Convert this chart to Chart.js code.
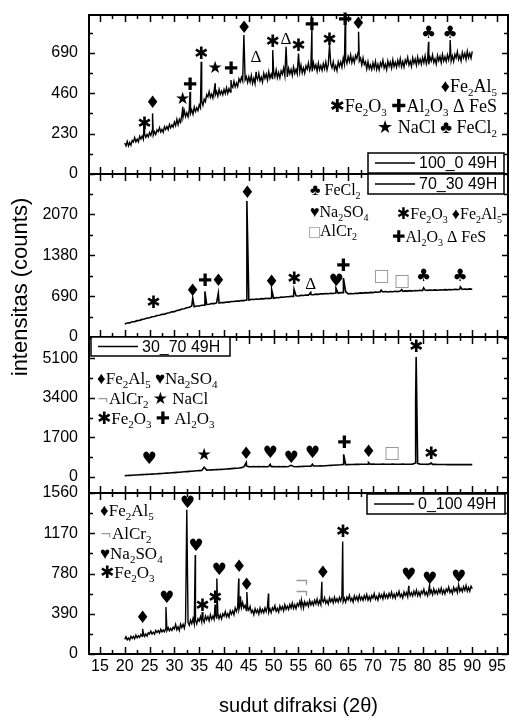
<!DOCTYPE html>
<html><head><meta charset="utf-8">
<script src="https://cdn.jsdelivr.net/npm/chart.js@4.4.1/dist/chart.umd.min.js"></script>
<style>html,body{margin:0;padding:0;background:#fff;}canvas{display:block;}</style>
</head><body>
<canvas id="c" width="509" height="718"></canvas>
<script>
// ---- angle grids (2θ, degrees) ----
const twoTheta = [20,20.5,21,21.5,22,22.5,23,23.5,24,24.5,25,25.5,26,26.5,27,27.5,28,28.5,29,29.5,30,30.5,31,31.5,32,32.5,33,33.5,34,34.5,35,35.5,36,36.5,37,37.5,38,38.5,39,39.5,40,40.5,41,41.5,42,42.5,43,43.5,44,44.5,45,45.5,46,46.5,47,47.5,48,48.5,49,49.5,50,50.5,51,51.5,52,52.5,53,53.5,54,54.5,55,55.5,56,56.5,57,57.5,58,58.5,59,59.5,60,60.5,61,61.5,62,62.5,63,63.5,64,64.5,65,65.5,66,66.5,67,67.5,68,68.5,69,69.5,70,70.5,71,71.5,72,72.5,73,73.5,74,74.5,75,75.5,76,76.5,77,77.5,78,78.5,79,79.5,80,80.5,81,81.5,82,82.5,83,83.5,84,84.5,85,85.5,86,86.5,87,87.5,88,88.5,89,89.5,90];
const twoThetaFine = [20,20.25,20.5,20.75,21,21.25,21.5,21.75,22,22.25,22.5,22.75,23,23.25,23.5,23.75,24,24.25,24.5,24.75,25,25.25,25.5,25.75,26,26.25,26.5,26.75,27,27.25,27.5,27.75,28,28.25,28.5,28.75,29,29.25,29.5,29.75,30,30.25,30.5,30.75,31,31.25,31.5,31.75,32,32.25,32.5,32.75,33,33.25,33.5,33.75,34,34.25,34.5,34.75,35,35.25,35.5,35.75,36,36.25,36.5,36.75,37,37.25,37.5,37.75,38,38.25,38.5,38.75,39,39.25,39.5,39.75,40,40.25,40.5,40.75,41,41.25,41.5,41.75,42,42.25,42.5,42.75,43,43.25,43.5,43.75,44,44.25,44.5,44.75,45,45.25,45.5,45.75,46,46.25,46.5,46.75,47,47.25,47.5,47.75,48,48.25,48.5,48.75,49,49.25,49.5,49.75,50,50.25,50.5,50.75,51,51.25,51.5,51.75,52,52.25,52.5,52.75,53,53.25,53.5,53.75,54,54.25,54.5,54.75,55,55.25,55.5,55.75,56,56.25,56.5,56.75,57,57.25,57.5,57.75,58,58.25,58.5,58.75,59,59.25,59.5,59.75,60,60.25,60.5,60.75,61,61.25,61.5,61.75,62,62.25,62.5,62.75,63,63.25,63.5,63.75,64,64.25,64.5,64.75,65,65.25,65.5,65.75,66,66.25,66.5,66.75,67,67.25,67.5,67.75,68,68.25,68.5,68.75,69,69.25,69.5,69.75,70,70.25,70.5,70.75,71,71.25,71.5,71.75,72,72.25,72.5,72.75,73,73.25,73.5,73.75,74,74.25,74.5,74.75,75,75.25,75.5,75.75,76,76.25,76.5,76.75,77,77.25,77.5,77.75,78,78.25,78.5,78.75,79,79.25,79.5,79.75,80,80.25,80.5,80.75,81,81.25,81.5,81.75,82,82.25,82.5,82.75,83,83.25,83.5,83.75,84,84.25,84.5,84.75,85,85.25,85.5,85.75,86,86.25,86.5,86.75,87,87.25,87.5,87.75,88,88.25,88.5,88.75,89,89.25,89.5,89.75,90];

// ---- series: 100_0 49H (fine grid) ----
const counts100_0 = [176,160,186,160,180,164,191,182,207,183,198,183,215,199,216,197,227,208,225,211,236,220,246,221,241,225,251,241,264,239,254,238,269,253,270,252,282,263,280,267,296,276,311,281,311,294,334,325,360,327,348,326,367,344,365,340,381,355,377,360,394,377,416,391,426,411,452,439,470,436,455,433,475,451,470,443,482,453,472,451,481,458,491,459,486,467,504,493,527,496,518,498,542,524,550,529,579,536,554,521,553,523,561,516,545,515,555,537,573,530,552,523,573,544,568,535,582,545,569,543,581,553,592,548,577,547,587,568,603,560,582,552,601,571,595,561,608,572,596,570,608,580,619,575,604,574,615,596,632,590,614,584,633,600,621,585,630,593,617,590,628,599,638,593,622,589,627,605,638,594,616,588,639,612,638,608,659,626,654,629,668,639,678,634,663,634,675,657,693,643,659,621,661,623,638,598,639,600,621,594,632,602,641,595,624,593,633,613,648,603,625,594,643,613,637,603,650,612,636,609,647,617,656,611,640,609,649,629,664,620,642,612,661,630,654,619,666,629,653,625,663,634,673,627,656,624,664,643,678,634,656,626,675,645,669,634,681,643,667,640,678,649,688,643,672,641,681,661,696,652,674,643,692,662,686,652,699,662,686,659,698];
const peaks100_0 = [[23.9,290],[25.6,345],[31.7,383],[33.15,468],[35.4,639],[38.2,516],[41.4,535],[44.0,791],[46.45,582],[49.8,705],[52.5,724],[55.0,686],[57.7,828],[61.25,734],[64.4,876],[67.1,810],[81.2,752],[85.55,762]];

// ---- series: 70_30 49H ----
const counts70_30 = [220,236,238,256,260,276,281,297,303,319,326,342,346,362,366,382,386,402,408,424,428,446,453,472,476,494,501,524,510,522,523,536,538,549,552,564,563,574,572,582,580,589,588,598,598,608,606,616,614,624,625,634,632,641,638,647,644,653,648,656,653,664,662,672,670,680,678,688,686,696,693,702,700,709,706,716,713,723,720,730,727,735,731,739,735,743,738,749,748,764,728,734,730,739,736,744,740,749,745,753,749,758,755,764,760,768,760,768,764,771,766,774,770,778,774,782,777,784,780,788,783,791,786,793,788,795,790,797,792,799,795,802,798,805,800,807,802,809,804,811,806];
const peaks70_30 = [[33.7,655],[36.15,768],[38.85,740],[44.6,2294],[49.6,797],[54.1,808],[57.45,751],[62.55,825],[64.05,994],[71.65,790],[75.8,800],[80.2,830],[87.6,845]];

// ---- series: 30_70 49H ----
const counts30_70 = [57,62,68,74,80,85,92,98,103,109,115,122,129,136,143,150,157,164,172,179,186,195,203,212,220,229,238,246,255,263,272,280,300,292,298,304,309,314,319,324,329,338,348,357,367,376,386,400,430,470,444,440,448,438,446,440,444,436,446,444,448,440,446,438,444,440,446,442,448,440,444,448,452,456,460,464,470,472,472,476,472,480,488,495,502,510,515,520,540,530,530,536,535,540,538,542,542,546,550,544,548,544,546,542,548,544,546,542,548,544,546,542,548,544,546,544,550,600,580,550,548,544,540,560,540,538,536,535,533,532,530,534,530,532,528,532,530,534,530,532,530];
const peaks30_70 = [[36.0,415],[44.45,615],[49.3,540],[53.5,500],[57.8,545],[64.1,973],[69.1,620],[78.6,3250],[78.7,5150],[81.7,600]];

// ---- series: 0_100 49H (fine grid) ----
const counts0_100 = [142,168,138,155,135,171,151,170,148,183,158,177,161,190,172,201,171,194,174,206,194,222,193,211,192,228,208,226,204,239,214,232,215,244,226,255,225,248,228,259,243,287,235,263,228,289,256,288,250,312,272,307,279,327,294,343,291,328,291,341,318,363,313,342,309,368,333,363,322,380,336,367,335,382,348,396,343,379,341,390,367,412,362,391,358,419,386,418,380,447,413,454,432,481,449,498,447,471,421,459,425,461,402,423,381,438,401,429,387,445,401,432,400,446,411,458,404,439,401,449,425,468,415,442,406,465,430,460,419,477,433,464,432,480,446,494,441,477,439,488,464,507,455,482,446,506,471,501,461,519,475,506,474,521,486,533,479,515,478,527,503,545,492,519,483,542,506,535,494,550,505,535,502,549,514,560,506,541,503,551,526,568,515,541,504,562,526,555,514,570,524,553,520,566,531,577,522,557,519,567,542,585,532,558,522,581,545,574,533,590,545,574,541,588,553,599,545,580,542,590,565,607,554,580,543,602,566,595,554,611,566,595,562,608,573,619,565,600,561,609,585,627,574,600,564,623,587,616,575,631,586,615,582,628,592,638,584,620,582,630,606,649,596,622,586,644,608,637,596,653,608,637,604,651,616,663,609,645,608,657,633];
const peaks0_100 = [[23.6,244],[28.3,455],[32.5,1398],[34.2,959],[35.6,406],[38.2,480],[38.55,731],[42.95,731],[43.3,560],[44.6,601],[48.95,585],[55.6,520],[55.8,505],[59.7,699],[63.9,1089],[77.2,660],[81.4,670],[87.25,670]];

// ---- axes ticks ----
const xTickLabels = [15,20,25,30,35,40,45,50,55,60,65,70,75,80,85,90,95];
const xMinorTicks = [17.5,22.5,27.5,32.5,37.5,42.5,47.5,52.5,57.5,62.5,67.5,72.5,77.5,82.5,87.5,92.5];
const yTicks100_0 = [0,230,460,690];
const yMinor100_0 = [115,345,575,805];
const yTicks70_30 = [0,690,1380,2070];
const yMinor70_30 = [345,1035,1725,2415];
const yTicks30_70 = [0,1700,3400,5100];
const yMinor30_70 = [850,2550,4250,5950];
const yTicks0_100 = [0,390,780,1170,1560];
const yMinor0_100 = [195,585,975,1365];

// ---- phase markers [symbol, 2θ, counts] ----
const marks100_0 = [['✱',23.94,284],['♦',25.62,402],['★',31.67,425],['✚',33.15,506],['✱',35.36,677],['★',38.19,601],['✚',41.41,597],['♦',44.03,829],['Δ',46.45,664],['✱',49.81,747],['Δ',52.5,766],['✱',54.99,728],['✚',57.67,842],['✱',61.24,758],['✚',64.4,872],['♦',67.08,853],['♣',81.2,800],['♣',85.56,800]];
const marks70_30 = [['✱',25.75,571],['♦',33.68,768],['✚',36.17,938],['♦',38.86,938],['♦',44.7,2418],['♦',49.61,921],['✱',54.11,966],['Δ',57.47,893],['♥',62.58,938],['✚',64.06,1181],['□',71.65,1011],['□',75.82,938],['♣',80.19,1023],['♣',87.58,1023]];
const marks30_70 = [['♥',24.9,730],['★',35.97,900],['♦',44.44,944],['♥',49.27,1016],['♥',53.51,801],['♥',57.81,987],['✚',64.26,1445],['♦',69.1,1045],['□',73.8,1016],['✱',78.71,5567],['✱',81.73,944]];
const marks0_100 = [['♦',23.6,348],['♥',28.44,536],['♥',32.61,1453],['♥',34.35,1040],['✱',35.63,455],['✱',38.19,536],['♥',38.99,813],['♦',43.02,835],['♦',44.57,666],['¬',55.66,690],['¬',55.66,583],['♦',59.89,780],['✱',63.92,1180],['♥',77.16,757],['♥',81.4,725],['♥',87.24,738]];

const sampleNames = ['100_0 49H','70_30 49H','30_70 49H','0_100 49H'];

// ---------------------------------------------------------------
function buildSeries(grid, vals, peaks){
  const pts = grid.map((x,i)=>({x:x, y:vals[i]}));
  peaks.forEach(([x,y])=>{
    const j = pts.findIndex(p=>Math.abs(p.x-x)<1e-9);
    if(j>=0) pts[j].y = y; else pts.push({x:x,y:y});
  });
  pts.sort((a,b)=>a.x-b.x);
  return pts;
}

const panels = [
  {id:'y1', name:sampleNames[0], grid:twoThetaFine, vals:counts100_0, peaks:peaks100_0, min:0, max:905, ticks:yTicks100_0, minor:yMinor100_0, marks:marks100_0, sw:159, w:4, lw:1.4},
  {id:'y2', name:sampleNames[1], grid:twoTheta, vals:counts70_30, peaks:peaks70_30, min:0, max:2750, ticks:yTicks70_30, minor:yMinor70_30, marks:marks70_30, sw:163, w:3, lw:1.6},
  {id:'y3', name:sampleNames[2], grid:twoTheta, vals:counts30_70, peaks:peaks30_70, min:-690, max:6010, ticks:yTicks30_70, minor:yMinor30_70, marks:marks30_70, sw:156, w:2, lw:1.6},
  {id:'y4', name:sampleNames[3], grid:twoThetaFine, vals:counts0_100, peaks:peaks0_100, min:0, max:1560, ticks:yTicks0_100, minor:yMinor0_100, marks:marks0_100, sw:161, w:1, lw:1.4}
];

const SANS = "'Liberation Sans', Arial, sans-serif";
const SERIF = "'Liberation Serif', 'DejaVu Serif', 'DejaVu Sans', serif";
const SYM = "'DejaVu Sans', sans-serif";

const scales = {
  x: {
    type:'linear', position:'bottom', min:12.8, max:97.2,
    afterBuildTicks: s => { s.ticks = xTickLabels.map(v=>({value:v})); },
    afterFit: s => { s.height = 64; },
    ticks:{autoSkip:false, maxRotation:0, minRotation:0, padding:3, color:'#000', font:{family:SANS, size:16}, callback:v=>String(v)},
    grid:{display:false, drawTicks:false}, border:{display:false},
    title:{display:true, text:'sudut difraksi (2θ)', color:'#000', font:{family:SANS, size:20}, padding:{top:0,bottom:0}}
  }
};
panels.forEach(p=>{
  scales[p.id] = {
    type:'linear', position:'left', stack:'xrd', stackWeight:p.sw, weight:p.w,
    min:p.min, max:p.max,
    afterBuildTicks: s => { s.ticks = p.ticks.map(v=>({value:v})); },
    afterFit: s => { s.width = 89; s.paddingTop = 0; s.paddingBottom = 0; },
    ticks:{padding:11, color:'#000', font:{family:SANS, size:16}, autoSkip:false, callback:v=>String(v)},
    grid:{display:false, drawTicks:false}, border:{display:false}
  };
});

function drawRich(ctx, x, y, str, align, size, family){
  const parts = []; let i = 0;
  while(i < str.length){
    if(str[i] === '_'){ parts.push({t:str[i+1], sub:true}); i += 2; }
    else { let j = i; while(j < str.length && str[j] !== '_') j++; parts.push({t:str.slice(i,j), sub:false}); i = j; }
  }
  const big = size+'px '+family, small = Math.round(size*0.62)+'px '+family;
  let w = 0;
  parts.forEach(p=>{ ctx.font = p.sub?small:big; p.w = ctx.measureText(p.t).width; w += p.w; });
  let cx = align==='right' ? x - w : x;
  ctx.textAlign = 'left'; ctx.textBaseline = 'middle';
  parts.forEach(p=>{ ctx.font = p.sub?small:big; ctx.fillText(p.t, cx, p.sub ? y + size*0.32 : y); cx += p.w; });
}

function legendBox(ctx, x0, y0, w, h, label){
  ctx.save();
  ctx.fillStyle = '#fff'; ctx.fillRect(x0, y0, w, h);
  ctx.strokeStyle = '#000'; ctx.lineWidth = 1.5; ctx.strokeRect(x0, y0, w, h);
  ctx.beginPath(); ctx.lineWidth = 1.5; ctx.moveTo(x0+7, y0+h/2); ctx.lineTo(x0+47, y0+h/2); ctx.stroke();
  ctx.fillStyle = '#000'; ctx.font = '16px '+SANS; ctx.textAlign = 'left'; ctx.textBaseline = 'middle';
  ctx.fillText(label, x0+51, y0+h/2+1);
  ctx.restore();
}

function greySym(ctx, s, x, y){
  ctx.fillStyle = '#9a9a9a'; ctx.font = '14px '+SYM; ctx.textAlign='left'; ctx.textBaseline='middle';
  ctx.fillText(s, x, y);
  ctx.fillStyle = '#000';
}

const decor = {
  id:'decor',
  afterDatasetsDraw(chart){
    const ctx = chart.ctx, xs = chart.scales.x;
    const L = chart.chartArea.left, R = chart.chartArea.right;
    ctx.save();
    // markers
    panels.forEach(p=>{
      const ys = chart.scales[p.id];
      p.marks.forEach(([s,x,y])=>{
        const px = xs.getPixelForValue(x), py = ys.getPixelForValue(y);
        ctx.fillStyle = (s==='□'||s==='¬') ? '#9a9a9a' : '#000';
        ctx.font = (s==='Δ' ? '17px '+SERIF : '17px '+SYM);
        ctx.textAlign = 'center'; ctx.textBaseline = 'middle';
        ctx.fillText(s, px, py);
      });
    });
    // frames and ticks
    ctx.strokeStyle = '#000';
    panels.forEach(p=>{
      const ys = chart.scales[p.id];
      ctx.lineWidth = 2;
      ctx.strokeRect(L, ys.top, R-L, ys.bottom-ys.top);
      ctx.lineWidth = 1.5;
      ctx.beginPath();
      xTickLabels.forEach(v=>{ const px = Math.round(xs.getPixelForValue(v))+0.5;
        ctx.moveTo(px, ys.bottom); ctx.lineTo(px, ys.bottom-7); ctx.moveTo(px, ys.top); ctx.lineTo(px, ys.top+7); });
      xMinorTicks.forEach(v=>{ const px = Math.round(xs.getPixelForValue(v))+0.5;
        ctx.moveTo(px, ys.bottom); ctx.lineTo(px, ys.bottom-4); ctx.moveTo(px, ys.top); ctx.lineTo(px, ys.top+4); });
      p.ticks.forEach(v=>{ const py = Math.round(ys.getPixelForValue(v))+0.5;
        ctx.moveTo(L, py); ctx.lineTo(L+6, py); ctx.moveTo(R, py); ctx.lineTo(R-6, py); });
      p.minor.forEach(v=>{ const py = Math.round(ys.getPixelForValue(v))+0.5;
        if(py > ys.top+1 && py < ys.bottom-1){ ctx.moveTo(L, py); ctx.lineTo(L+4, py); ctx.moveTo(R, py); ctx.lineTo(R-4, py); } });
      ctx.stroke();
    });
    const y1 = chart.scales.y1, y2 = chart.scales.y2, y3 = chart.scales.y3, y4 = chart.scales.y4;
    // sample legend boxes
    legendBox(ctx, R-140, y1.bottom-21, 136, 20, panels[0].name);
    legendBox(ctx, R-140, y2.top, 136, 20, panels[1].name);
    legendBox(ctx, L+2, y3.top, 139, 19, panels[2].name);
    legendBox(ctx, R-141, y4.top+1, 138, 20, panels[3].name);
    // phase legends
    ctx.fillStyle = '#000';
    drawRich(ctx, R-11, y1.top+72, '♦Fe_2Al_5', 'right', 18, SERIF);
    drawRich(ctx, R-11, y1.top+92, '✱Fe_2O_3 ✚Al_2O_3 Δ FeS', 'right', 18, SERIF);
    drawRich(ctx, R-11, y1.top+113, '★ NaCl ♣ FeCl_2', 'right', 18, SERIF);

    drawRich(ctx, 310, y2.top+17, '♣ FeCl_2', 'left', 16, SERIF);
    drawRich(ctx, 310, y2.top+39, '♥Na_2SO_4', 'left', 16, SERIF);
    drawRich(ctx, R-6, y2.top+41, '✱Fe_2O_3 ♦Fe_2Al_5', 'right', 16, SERIF);
    greySym(ctx, '□', 308, y2.top+58);
    drawRich(ctx, 320, y2.top+58, 'AlCr_2', 'left', 16, SERIF);
    drawRich(ctx, 392, y2.top+64, '✚Al_2O_3 Δ FeS', 'left', 16, SERIF);

    drawRich(ctx, L+8, y3.top+43, '♦Fe_2Al_5 ♥Na_2SO_4', 'left', 17, SERIF);
    greySym(ctx, '¬', L+8, y3.top+63);
    drawRich(ctx, L+20, y3.top+63, 'AlCr_2 ★ NaCl', 'left', 17, SERIF);
    drawRich(ctx, L+8, y3.top+83, '✱Fe_2O_3 ✚ Al_2O_3', 'left', 17, SERIF);

    drawRich(ctx, L+11, y4.top+19, '♦Fe_2Al_5', 'left', 17, SERIF);
    greySym(ctx, '¬', L+11, y4.top+42);
    drawRich(ctx, L+23, y4.top+42, 'AlCr_2', 'left', 17, SERIF);
    drawRich(ctx, L+11, y4.top+62, '♥Na_2SO_4', 'left', 17, SERIF);
    drawRich(ctx, L+11, y4.top+81, '✱Fe_2O_3', 'left', 17, SERIF);

    // y-axis title
    ctx.save();
    ctx.translate(21, 287); ctx.rotate(-Math.PI/2);
    ctx.fillStyle = '#000'; ctx.font = '22px '+SANS; ctx.textAlign='center'; ctx.textBaseline='middle';
    ctx.fillText('intensitas (counts)', 0, 0);
    ctx.restore();
    ctx.restore();
  }
};

new Chart(document.getElementById('c'), {
  type:'line',
  data:{ datasets: panels.map(p=>({
    label:p.name, data:buildSeries(p.grid, p.vals, p.peaks), yAxisID:p.id, xAxisID:'x',
    borderColor:'#000', borderWidth:p.lw, pointRadius:0, tension:0, fill:false
  }))},
  options:{
    responsive:false, animation:false, devicePixelRatio:1,
    layout:{padding:{top:15,right:1,left:0,bottom:0}},
    plugins:{legend:{display:false}, tooltip:{enabled:false}},
    scales:scales
  },
  plugins:[decor]
});
</script>
</body></html>
